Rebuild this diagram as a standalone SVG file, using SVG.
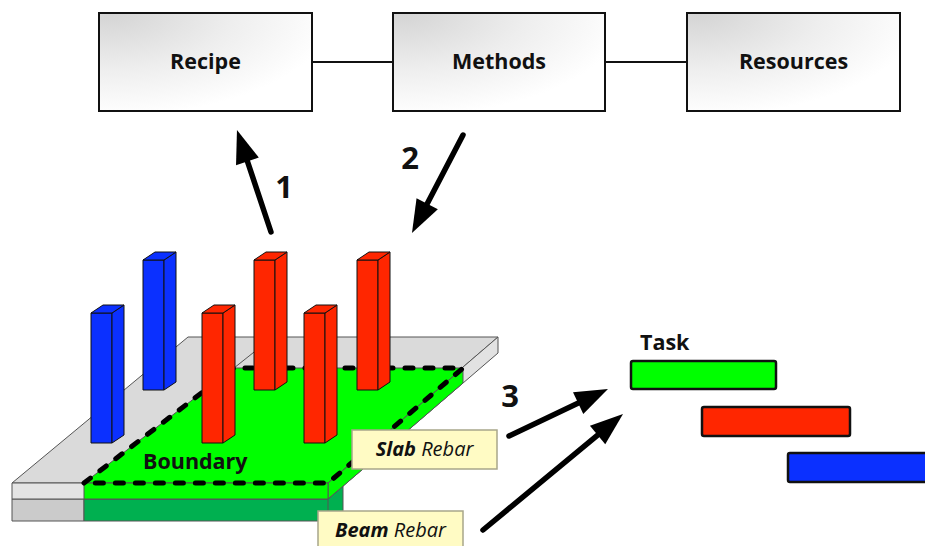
<svg xmlns="http://www.w3.org/2000/svg" width="925" height="546" viewBox="0 0 925 546">
  <defs>
    <radialGradient id="boxFill" cx="0.05" cy="0" r="1.05" fx="0.05" fy="0">
      <stop offset="0" stop-color="#d4d4d4"/>
      <stop offset="0.55" stop-color="#eeeeee"/>
      <stop offset="1" stop-color="#ffffff"/>
    </radialGradient>
    <marker id="head" markerUnits="userSpaceOnUse" viewBox="-14 -13 36 26" refX="0" refY="0" markerWidth="36" markerHeight="26" orient="auto" overflow="visible">
      <path d="M20,0 L-13,-12 L-13,12 Z" fill="#000"/>
    </marker>
    <!-- one column: front face, side face and top face, origin at front-bottom-left -->
    <g id="column">
      <rect x="0" y="-130" width="21" height="130"/>
      <path d="M21,-130 L33,-138 L33,-8 L21,0 Z"/>
      <path d="M0,-130 L12,-138 L33,-138 L21,-130 Z"/>
    </g>
  </defs>
  <style>
    .box { fill: url(#boxFill); stroke: #111; stroke-width: 2; }
    .boxText { font-family: "Open Sans", "Liberation Sans", sans-serif; font-weight: bold; font-size: 21.5px; fill: #111; text-anchor: middle; }
    .link { stroke: #111; stroke-width: 2; fill: none; }
    .arrow { stroke: #000; stroke-width: 5.5; stroke-linecap: round; fill: none; marker-end: url(#head); }
    .num { font-family: "Open Sans", "Liberation Sans", sans-serif; font-weight: bold; font-size: 31px; fill: #111; text-anchor: middle; }
    .edge { stroke: #555; stroke-width: 1; stroke-linejoin: round; }
    .blue { fill: #0b30ff; stroke: #111; stroke-width: 1; stroke-linejoin: round; }
    .red { fill: #ff2600; stroke: #111; stroke-width: 1; stroke-linejoin: round; }
    .note { fill: #fffbc4; stroke: #a8a68a; stroke-width: 1.5; }
    .noteText { font-family: "Open Sans", "Liberation Sans", sans-serif; font-style: italic; font-size: 20px; fill: #111; text-anchor: middle; }
    .bar { stroke: #111; stroke-width: 2.5; }
    .label { font-family: "Open Sans", "Liberation Sans", sans-serif; font-weight: bold; font-size: 21.5px; fill: #111; }
  </style>

  <!-- links and arrows -->
  <g id="connectors">
    <line class="link" x1="312" y1="62" x2="393" y2="62"/>
    <line class="link" x1="605" y1="62" x2="687" y2="62"/>
    <line class="arrow" x1="271" y1="232" x2="243.3" y2="149"/>
    <line class="arrow" x1="463" y1="135" x2="421.2" y2="215.3"/>
    <line class="arrow" x1="509" y1="436" x2="589.9" y2="397.6"/>
    <line class="arrow" x1="483" y1="530" x2="607.6" y2="426.8"/>
  </g>

  <!-- process boxes -->
  <g id="recipe">
    <rect class="box" x="99" y="13" width="213" height="98"/>
    <text class="boxText" x="205.5" y="69">Recipe</text>
  </g>
  <g id="methods">
    <rect class="box" x="393" y="13" width="212" height="98"/>
    <text class="boxText" x="499" y="69">Methods</text>
  </g>
  <g id="resources">
    <rect class="box" x="687" y="13" width="213" height="98"/>
    <text class="boxText" x="793.5" y="69">Resources</text>
  </g>

  <!-- step numbers -->
  <g id="steps">
    <text class="num" x="284" y="198">1</text>
    <text class="num" x="410" y="169">2</text>
    <text class="num" x="510" y="407">3</text>
  </g>

  <!-- slab and beam -->
  <g id="slab">
    <!-- beam below the slab -->
    <rect x="12" y="499" width="72" height="22" fill="#cbcbcb" class="edge"/>
    <path d="M84,499 L328,499 L343,486 L343,521 L84,521 Z" fill="#00b050" class="edge"/>
    <line x1="328" y1="499" x2="328" y2="521" class="edge"/>
    <!-- gray slab -->
    <path d="M12,483 L188,337 L498,337 L328,483 Z" fill="#dadada" class="edge"/>
    <path d="M498,337 L498,353 L328,499 L328,483 Z" fill="#e2e2e2" class="edge"/>
    <rect x="12" y="483" width="316" height="16" fill="#e4e4e4" class="edge"/>
    <line x1="234" y1="368" x2="273" y2="337" class="edge"/>
    <!-- pour boundary region -->
    <path d="M84,483 L234,368 L463,368 L328,483 Z" fill="#00ff00" class="edge"/>
    <path d="M328,483 L463,368 L463,383 L328,499 Z" fill="#00ff00" class="edge"/>
    <rect x="84" y="483" width="244" height="16" fill="#00ff00" class="edge"/>
    <path d="M84,483 L234,368 L463,368 L328,483 Z" fill="none" stroke="#000" stroke-width="5" stroke-dasharray="8 12" stroke-linecap="round"/>
    <text class="label" x="143" y="469">Boundary</text>
  </g>

  <!-- columns, back row first -->
  <g id="column-blue-2" class="blue"><use href="#column" x="143" y="390"/></g>
  <g id="column-red-b" class="red"><use href="#column" x="254" y="390"/></g>
  <g id="column-red-d" class="red"><use href="#column" x="357" y="390"/></g>
  <g id="column-blue-1" class="blue"><use href="#column" x="91" y="443"/></g>
  <g id="column-red-a" class="red"><use href="#column" x="202" y="443"/></g>
  <g id="column-red-c" class="red"><use href="#column" x="304" y="443"/></g>

  <!-- rebar notes -->
  <g id="slab-rebar">
    <rect class="note" x="352" y="430" width="145" height="39"/>
    <text class="noteText" x="424.5" y="456"><tspan font-weight="bold">Slab</tspan> Rebar</text>
  </g>
  <g id="beam-rebar">
    <rect class="note" x="318" y="511" width="145" height="45"/>
    <text class="noteText" x="390.5" y="537"><tspan font-weight="bold">Beam</tspan> Rebar</text>
  </g>

  <!-- schedule -->
  <g id="task">
    <text class="label" x="640" y="350">Task</text>
    <rect class="bar" x="631" y="361" width="145" height="28" rx="2" fill="#00ff00"/>
    <rect class="bar" x="702" y="407" width="148" height="29" rx="2" fill="#ff2600"/>
    <rect class="bar" x="788" y="453" width="145" height="29" rx="2" fill="#0b30ff"/>
  </g>
</svg>
